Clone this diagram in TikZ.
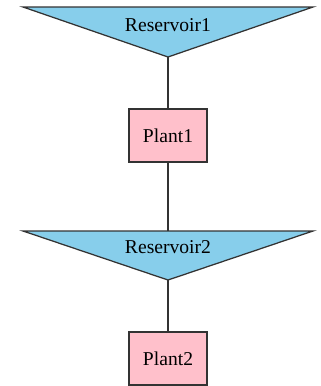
\documentclass[tikz,border=0pt]{standalone}
\usepackage{fontspec}
\setmainfont{Liberation Serif}
\definecolor{resfill}{HTML}{87CEEB}
\definecolor{plantfill}{HTML}{FFC0CB}
\definecolor{edgecol}{HTML}{333333}
\begin{document}
\begin{tikzpicture}[x=0.714pt,y=-0.714pt,
  reservoir/.style={draw=edgecol,fill=resfill,line width=0.9pt,line join=miter},
  plant/.style={draw=edgecol,fill=plantfill,line width=0.9pt,
    minimum width=55.7pt,minimum height=37.9pt,inner sep=0pt,outer sep=0pt,
    font=\fontsize{14pt}{16pt}\selectfont},
  label/.style={font=\fontsize{14pt}{16pt}\selectfont,inner sep=0pt,anchor=base},
  link/.style={draw=edgecol,line width=0.9pt}]
\useasboundingbox (0,0) rectangle (321,386);

% Reservoir 1 (inverted triangle)
\filldraw[reservoir] (23,7) -- (313,7) -- (168,57) -- cycle;
\node[label] (res1) at (168,31) {Reservoir1};
\coordinate (res1tip) at (168,57);

% Plant 1
\node[plant] (plant1) at (168,135.5) {Plant1};

% Reservoir 2 (inverted triangle)
\filldraw[reservoir] (23,231) -- (313,231) -- (168,280) -- cycle;
\node[label] (res2) at (168,253) {Reservoir2};
\coordinate (res2top) at (168,231);
\coordinate (res2tip) at (168,280);

% Plant 2
\node[plant] (plant2) at (168,358.5) {Plant2};

% connectors
\draw[link] (res1tip) -- (plant1.north);
\draw[link] (plant1.south) -- (res2top);
\draw[link] (res2tip) -- (plant2.north);
\end{tikzpicture}
\end{document}
